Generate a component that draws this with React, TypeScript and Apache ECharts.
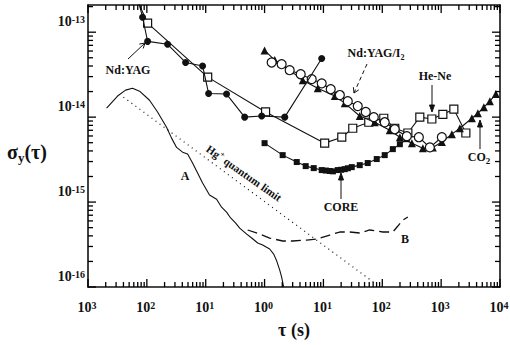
import React, { useEffect, useRef } from "react";
import * as echarts from "echarts";

const FONT = '"Liberation Serif", "Times New Roman", serif';
const X_MIN = 1e-3;
const X_MAX = 1e4;
const Y_MIN = 1e-16;
const Y_MAX = 2.09e-13;

// Nd:YAG (filled circles); first point lies above the frame (clipped lead-in)
const ndYagCircles: [number, number][] = [
  [6.8e-3, 2.7e-13], [8.45e-3, 1.5e-13], [1.03e-2, 7.8e-14], [2.25e-2, 7.2e-14],
  [4.55e-2, 4.4e-14], [8.85e-2, 4.0e-14], [0.112, 1.9e-14], [0.226, 1.87e-14],
  [0.459, 1.0e-14], [0.893, 1.03e-14], [2.2, 1.0e-14], [9.35, 4.9e-14],
];

// Nd:YAG / He-Ne (open squares); first point is a clipped lead-in
const openSquares: [number, number][] = [
  [6.3e-3, 2.7e-13], [1.03e-2, 1.28e-13], [0.108, 2.96e-14], [1.04, 1.15e-14],
  [10.5, 4.94e-15], [20.5, 5.8e-15], [31.5, 7.4e-15], [58.9, 8.7e-15],
  [106, 9.7e-15], [163, 7.4e-15], [272, 6.5e-15], [434, 1.0e-14],
  [695, 9.5e-15], [1069, 1.08e-14], [1644, 1.24e-14], [2630, 6.5e-15],
];

// Nd:YAG/I2 (open circles)
const openCircles: [number, number][] = [
  [1.32, 4.4e-14], [1.95, 4.2e-14], [2.67, 3.57e-14], [4.11, 3.2e-14],
  [6.32, 2.8e-14], [9.35, 2.5e-14], [13.3, 2.13e-14], [19, 1.82e-14],
  [25.9, 1.54e-14], [38.3, 1.35e-14], [52.4, 1.15e-14], [71.7, 1.0e-14],
  [110, 8.7e-15], [163, 7.2e-15], [261, 5.97e-15], [418, 5.8e-15],
  [643, 4.4e-15], [1028, 5.8e-15],
];

// CO2 (filled triangles)
const triangles: [number, number][] = [
  [1.0, 6.1e-14], [1.49, 4.7e-14], [2.67, 3.57e-14], [4.45, 2.72e-14],
  [8.0, 2.19e-14], [15.6, 1.77e-14], [23, 1.46e-14], [41.4, 1.03e-14],
  [74.5, 8.7e-15], [134, 7.0e-15], [199, 5.8e-15], [318, 4.94e-15],
  [489, 4.3e-15], [722, 4.4e-15], [1028, 5.1e-15], [1520, 6.3e-15],
  [2080, 7.4e-15], [3330, 9.7e-15], [4210, 1.11e-14], [5320, 1.31e-14],
  [6730, 1.54e-14], [8510, 1.87e-14],
];

// CORE (filled squares)
const coreSquares: [number, number][] = [
  [1.0, 4.94e-15], [2.03, 3.57e-15], [3.52, 2.96e-15], [5.0, 2.65e-15],
  [6.84, 2.51e-15], [9.35, 2.38e-15], [11, 2.35e-15], [12.8, 2.32e-15],
  [14.5, 2.3e-15], [17.5, 2.38e-15], [20, 2.4e-15], [23, 2.44e-15],
  [26, 2.5e-15], [30.3, 2.58e-15], [41.4, 2.72e-15], [56.6, 2.88e-15],
  [80.5, 3.21e-15], [110, 3.57e-15], [151, 4.2e-15], [199, 4.8e-15],
  [261, 5.5e-15],
];

// Curve A (solid line)
const curveA: [number, number][] = [
  [2.07e-3, 1.28e-14], [3.18e-3, 1.77e-14], [4.35e-3, 2.08e-14], [5.71e-3, 2.19e-14],
  [7.52e-3, 2.02e-14], [1.11e-2, 1.58e-14], [1.52e-2, 1.15e-14], [2.16e-2, 7.6e-15],
  [2.63e-2, 5.66e-15], [3.2e-2, 4.4e-15], [4.05e-2, 3.87e-15], [4.92e-2, 3.67e-15],
  [5.98e-2, 2.88e-15], [7.0e-2, 2.32e-15], [8.85e-2, 1.68e-15], [0.116, 1.21e-15],
  [0.153, 1.08e-15], [0.186, 8.7e-16], [0.226, 7.6e-16], [0.265, 6.5e-16],
  [0.323, 5.66e-16], [0.378, 4.94e-16], [0.497, 4.2e-16], [0.604, 3.77e-16],
  [0.764, 3.3e-16], [0.929, 3.12e-16], [1.22, 2.8e-16], [1.43, 2.44e-16],
  [1.61, 2.02e-16], [1.81, 1.58e-16], [1.95, 1.31e-16], [2.11, 1.0e-16],
];

// Curve B (dashed line)
const curveB: [number, number][] = [
  [0.516, 4.69e-16], [0.826, 4.2e-16], [1.22, 3.77e-16], [2.03, 3.48e-16],
  [3.0, 3.48e-16], [5.2, 3.57e-16], [7.69, 3.67e-16], [12.8, 4.09e-16],
  [18.9, 4.44e-16], [28, 4.44e-16], [41.4, 4.32e-16], [61.3, 4.69e-16],
  [102, 4.44e-16], [151, 4.44e-16], [184, 5.22e-16], [223, 6.14e-16],
  [272, 6.67e-16],
];

// Hg+ quantum limit (dotted straight line)
const hgLimit: [number, number][] = [
  [4.0e-3, 1.72e-14], [74.5, 1.11e-16],
];

// Tick values and their labels (exponents as printed in the figure)
const xMajorTicks: number[] = [1e-3, 1e-2, 1e-1, 1, 10, 100, 1000, 10000];
const xTickExps: string[] = ["3", "2", "1", "0", "1", "2", "3", "4"];
const yMajorTicks: number[] = [1e-16, 1e-15, 1e-14, 1e-13];
const yTickExps: string[] = ["-16", "-15", "-14", "-13"];
const xMinorTicks: number[] = [];
for (let d = -3; d < 4; d++) for (let m = 2; m <= 9; m++) xMinorTicks.push(m * Math.pow(10, d));
const yMinorTicks: number[] = [];
for (let d = -16; d < -12; d++) for (let m = 2; m <= 9; m++) {
  const v = m * Math.pow(10, d);
  if (v < Y_MAX) yMinorTicks.push(v);
}

const BLACK = "#111";

const tickRich = {
  a: { fontFamily: FONT, fontSize: 14, fontWeight: "bold", fill: BLACK, lineHeight: 14, padding: [6, 0, 0, 0], verticalAlign: "bottom" },
  b: { fontFamily: FONT, fontSize: 10, fontWeight: "bold", fill: BLACK, lineHeight: 10, verticalAlign: "top" },
};

function xAxisDef(pos: "bottom" | "top") {
  return {
    type: "log",
    logBase: 10,
    min: X_MIN,
    max: X_MAX,
    position: pos,
    axisLine: { show: true, lineStyle: { color: BLACK, width: 1.6 } },
    axisTick: { show: false },
    axisLabel: { show: false },
    splitLine: { show: false },
  };
}

function yAxisDef(pos: "left" | "right") {
  return {
    type: "log",
    logBase: 10,
    min: Y_MIN,
    max: Y_MAX,
    position: pos,
    axisLine: { show: true, lineStyle: { color: BLACK, width: 1.6 } },
    axisTick: { show: false },
    axisLabel: { show: false },
    splitLine: { show: false },
  };
}

function lineSeries(name: string, data: [number, number][], symbol: string, size: number, filled: boolean, z: number, leadIn: boolean) {
  return {
    name,
    type: "line",
    data: data.map((p, i) => (leadIn && i === 0 ? { value: p, symbol: "none" } : p)),
    symbol,
    symbolSize: size,
    showAllSymbol: true,
    clip: true,
    z,
    lineStyle: { color: BLACK, width: 1.1 },
    itemStyle: filled
      ? { color: BLACK, borderColor: BLACK, borderWidth: 0 }
      : { color: "#fff", borderColor: BLACK, borderWidth: 1.2 },
  };
}

const textStyle = (text: string, x: number, y: number, size = 12, extra: any = {}) => ({
  type: "text",
  x,
  y,
  z: 50,
  style: {
    text,
    fill: BLACK,
    fontFamily: FONT,
    fontWeight: "bold",
    fontSize: size,
    align: "center",
    verticalAlign: "middle",
    ...extra,
  },
});

const seg = (x1: number, y1: number, x2: number, y2: number, dash?: number[]) => ({
  type: "line",
  z: 50,
  shape: { x1, y1, x2, y2 },
  style: dash ? { stroke: BLACK, lineWidth: 1, lineDash: dash } : { stroke: BLACK, lineWidth: 1 },
});

const head = (pts: number[][], fill: boolean) =>
  fill
    ? { type: "polygon", z: 50, shape: { points: pts }, style: { fill: BLACK, stroke: BLACK, lineWidth: 1 } }
    : { type: "polyline", z: 50, shape: { points: pts }, style: { stroke: BLACK, lineWidth: 1 } };

const baseGraphics: any[] = [
  // Axis titles
  textStyle("σ{s|y}(τ)", 27, 152, 20, {
    rich: { s: { fontFamily: FONT, fontWeight: "bold", fontSize: 13, lineHeight: 12, verticalAlign: "bottom" } },
    lineHeight: 24,
  }),
  textStyle("τ (s)", 294, 330, 18),
  // Nd:YAG
  textStyle("Nd:YAG", 128, 70, 12),
  seg(128, 59, 145, 43),
  head([[143.2, 48.5], [145, 43], [139.3, 44.1]], false),
  // Nd:YAG/I2
  textStyle("Nd:YAG/I{s|2}", 376, 53, 12, {
    lineHeight: 16,
    rich: { s: { fontFamily: FONT, fontWeight: "bold", fontSize: 8, lineHeight: 8, verticalAlign: "bottom" } },
  }),
  seg(367, 64, 354, 93, [4, 3]),
  head([[358.8, 89.8], [354, 93], [353.4, 87.2]], false),
  // He-Ne
  textStyle("He-Ne", 435, 76, 12),
  seg(432, 85, 432, 108),
  head([[429.5, 105], [432, 112], [434.5, 105]], true),
  // CO2
  textStyle("CO{s|2}", 479, 157, 12, {
    lineHeight: 16,
    rich: { s: { fontFamily: FONT, fontWeight: "bold", fontSize: 9, lineHeight: 9, verticalAlign: "bottom" } },
  }),
  seg(480, 149, 480, 125),
  head([[477.5, 127], [480, 120], [482.5, 127]], true),
  // CORE
  textStyle("CORE", 341, 207, 12),
  seg(341, 199, 341, 178),
  head([[338.5, 180], [341, 173], [343.5, 180]], true),
  // Curve labels
  textStyle("A", 185, 176, 12),
  textStyle("B", 405, 239, 12),
  {
    ...textStyle("Hg{p|+} quantum limit", 244, 173, 11, {
      lineHeight: 14,
      rich: { p: { fontFamily: FONT, fontWeight: "bold", fontSize: 8, lineHeight: 8, verticalAlign: "top" } },
    }),
    rotation: -0.61,
  },
];

export default function App() {
  const ref = useRef<HTMLDivElement>(null);
  useEffect(() => {
    const chart = echarts.init(ref.current!, null, { renderer: "svg" });
    const option: any = {
      animation: false,
      backgroundColor: "#fff",
      grid: { left: 88, right: 10, top: 5, bottom: 58, containLabel: false, outerBoundsMode: "none" },
      xAxis: [xAxisDef("bottom"), xAxisDef("top")],
      yAxis: [yAxisDef("left"), yAxisDef("right")],
      series: [
        {
          name: "Hg+ quantum limit",
          type: "line",
          data: hgLimit,
          symbol: "none",
          z: 4,
          lineStyle: { color: BLACK, width: 1.2, type: [1, 4] },
        },
        {
          name: "A",
          type: "line",
          data: curveA,
          symbol: "none",
          z: 4,
          lineStyle: { color: BLACK, width: 1.1 },
        },
        {
          name: "B",
          type: "line",
          data: curveB,
          symbol: "none",
          z: 4,
          lineStyle: { color: BLACK, width: 1.3, type: [10, 5] },
        },
        lineSeries("CORE", coreSquares, "rect", 6, true, 5, false),
        lineSeries("He-Ne", openSquares, "rect", 8, false, 6, true),
        lineSeries("CO2", triangles, "triangle", 8, true, 7, false),
        lineSeries("Nd:YAG/I2", openCircles, "circle", 9, false, 8, false),
        lineSeries("Nd:YAG", ndYagCircles, "circle", 7, true, 9, true),
      ],
      graphic: baseGraphics,
    };
    try {
      chart.setOption(option);
    } catch (e) {
      // continue with the frame decoration below
    }

    // Frame ticks and tick labels, placed through the axes' own log scales
    try {
      const extra: any[] = [];
      const px = (x: number, y: number) => chart.convertToPixel({ gridIndex: 0 }, [x, y]) as number[];
      const addX = (v: number, len: number) => {
        const b = px(v, Y_MIN);
        const t = px(v, Y_MAX);
        if (!b || !t) return;
        extra.push({ type: "line", z: 100, shape: { x1: b[0], y1: b[1], x2: b[0], y2: b[1] - len }, style: { stroke: "#000", lineWidth: 1.3 } });
        extra.push({ type: "line", z: 100, shape: { x1: t[0], y1: t[1], x2: t[0], y2: t[1] + len }, style: { stroke: "#000", lineWidth: 1.3 } });
      };
      const addY = (v: number, len: number) => {
        const l = px(X_MIN, v);
        const r = px(X_MAX, v);
        if (!l || !r) return;
        extra.push({ type: "line", z: 100, shape: { x1: l[0], y1: l[1], x2: l[0] + len, y2: l[1] }, style: { stroke: "#000", lineWidth: 1.3 } });
        extra.push({ type: "line", z: 100, shape: { x1: r[0], y1: r[1], x2: r[0] - len, y2: r[1] }, style: { stroke: "#000", lineWidth: 1.3 } });
      };
      xMajorTicks.forEach((v) => addX(v, 8));
      xMinorTicks.forEach((v) => addX(v, 5));
      yMajorTicks.forEach((v) => addY(v, 8));
      yMinorTicks.forEach((v) => addY(v, 5));

      xMajorTicks.forEach((v, i) => {
        const b = px(v, Y_MIN);
        if (!b) return;
        extra.push({
          type: "text", z: 100, x: b[0] - 1, y: b[1] + 20,
          style: { text: `{a|10}{b|${xTickExps[i]}}`, rich: tickRich, fontFamily: FONT, fontSize: 14, fontWeight: "bold", fill: BLACK, align: "center", verticalAlign: "middle" },
        });
      });
      yMajorTicks.forEach((v, i) => {
        const l = px(X_MIN, v);
        if (!l) return;
        extra.push({
          type: "text", z: 100, x: l[0] - 3, y: l[1] - 11,
          style: { text: `{a|10}{b|${yTickExps[i]}}`, rich: tickRich, fontFamily: FONT, fontSize: 14, fontWeight: "bold", fill: BLACK, align: "right", verticalAlign: "middle" },
        });
      });
      chart.setOption({ graphic: [...baseGraphics, ...extra] });
    } catch (e) {
      // keep the chart as drawn
    }

    return () => chart.dispose();
  }, []);
  return (
    <div
      ref={ref}
      style={{ position: "fixed", left: 0, top: 0, width: 510, height: 345, background: "#fff" }}
    />
  );
}
